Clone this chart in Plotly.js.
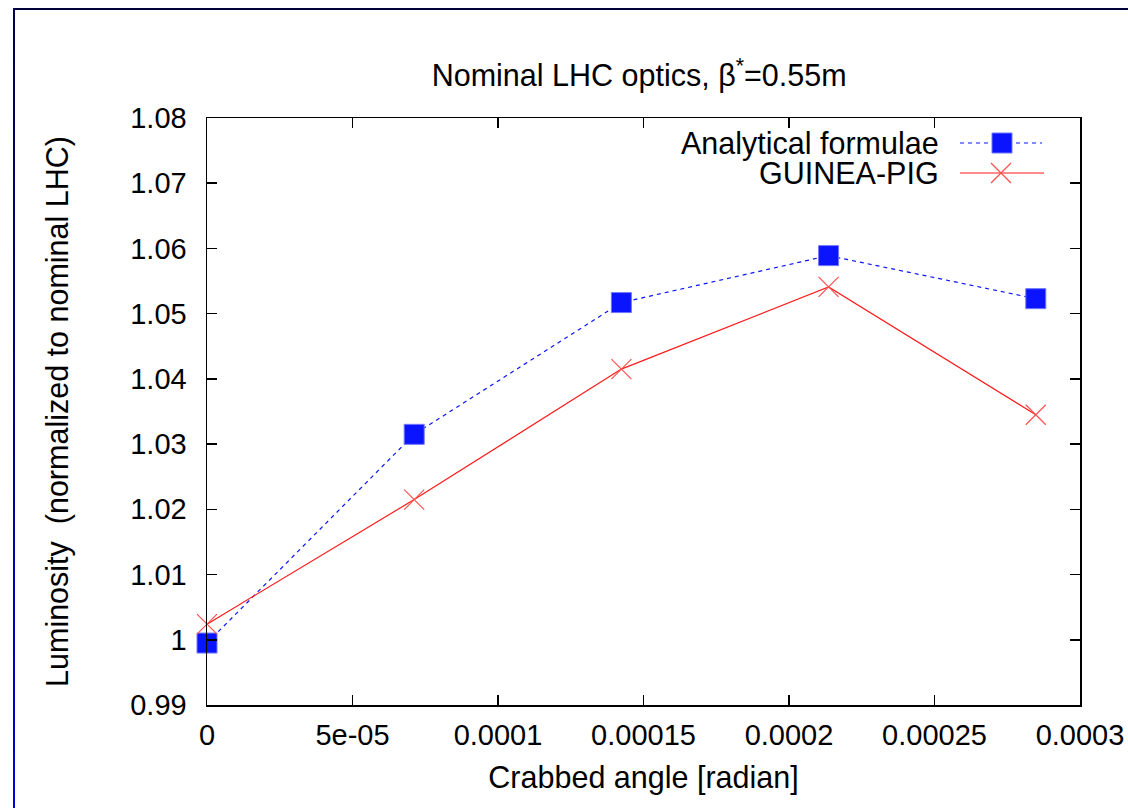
<!DOCTYPE html>
<html>
<head>
<meta charset="utf-8">
<script src="https://cdn.plot.ly/plotly-3.0.1.min.js"></script>
<style>
  html, body { margin: 0; padding: 0; background: #fff; }
  #wrap { position: relative; width: 1128px; height: 808px; overflow: hidden; }
  #chart { position: absolute; left: 0; top: 0; width: 1128px; height: 808px; }
  #topline { position: absolute; left: 13px; top: 8px; width: 1115px; height: 2px; background: #00003a; }
  #leftline { position: absolute; left: 13px; top: 8px; width: 2px; height: 800px;
              background: linear-gradient(to bottom, #00004a, #0000d8); }
</style>
</head>
<body>
<div id="wrap">
  <div id="chart"></div>
  <div id="topline"></div>
  <div id="leftline"></div>
</div>
<script>
// Crossing (crabbed) angle [radian]
const crabAngle = [0, 7.12e-5, 1.424e-4, 2.136e-4, 2.848e-4];
// Luminosity normalised to nominal LHC
const analytical = [0.9995, 1.0315, 1.0517, 1.0589, 1.0523];
const guineaPig  = [1.0024, 1.0215, 1.0415, 1.0541, 1.0345];

const seriesNames = ['Analytical formulae', 'GUINEA-PIG'];

const xTickVals = [0, 5e-5, 1e-4, 1.5e-4, 2e-4, 2.5e-4, 3e-4];
const xTickText = ['0', '5e-05', '0.0001', '0.00015', '0.0002', '0.00025', '0.0003'];
const yTickVals = [0.99, 1.00, 1.01, 1.02, 1.03, 1.04, 1.05, 1.06, 1.07, 1.08];
const yTickText = ['0.99', '1', '1.01', '1.02', '1.03', '1.04', '1.05', '1.06', '1.07', '1.08'];

const FONT = 'Liberation Sans, Arial, Helvetica, sans-serif';
const TXT = 30.5;
const TICK = 29;
const BLUE = '#0a14ff';
const RED = '#ff1a1a';

const traces = [
  {
    x: crabAngle, y: analytical, name: seriesNames[0],
    type: 'scatter', mode: 'lines+markers', cliponaxis: false,
    line: { color: BLUE, width: 1.2, dash: '4px,4px' },
    marker: { symbol: 'square', size: 20, color: BLUE, line: { color: '#6f78ff', width: 1 } }
  },
  {
    x: crabAngle, y: guineaPig, name: seriesNames[1],
    type: 'scatter', mode: 'lines+markers', cliponaxis: false,
    line: { color: RED, width: 1.2 },
    marker: { symbol: 'x-thin', size: 20, color: RED, line: { color: '#ff5050', width: 1.2 } }
  }
];

// Gnuplot-style key (text on the left, sample on the right)
const keyY = [143, 173];
const toPX = (xpix) => (xpix - 207) / (1080 - 207);
const toPY = (ypix) => (705 - ypix) / (705 - 118);

const annotations = seriesNames.map((n, i) => ({
  text: n, xref: 'paper', yref: 'paper',
  x: toPX(941), y: toPY(keyY[i]),
  xanchor: 'right', yanchor: 'middle', showarrow: false,
  font: { family: FONT, size: TXT, color: '#000' }
}));

const shapes = [
  { type: 'line', xref: 'paper', yref: 'paper', x0: toPX(960), x1: toPX(1042), y0: toPY(keyY[0]), y1: toPY(keyY[0]),
    line: { color: BLUE, width: 1.2, dash: '4px,4px' } },
  { type: 'rect', xref: 'paper', yref: 'paper', x0: toPX(992), x1: toPX(1012), y0: toPY(keyY[0] - 10), y1: toPY(keyY[0] + 10),
    fillcolor: BLUE, line: { color: '#6f78ff', width: 1 } },
  { type: 'line', xref: 'paper', yref: 'paper', x0: toPX(960), x1: toPX(1044), y0: toPY(keyY[1]), y1: toPY(keyY[1]),
    line: { color: RED, width: 1.2 } },
  { type: 'line', xref: 'paper', yref: 'paper', x0: toPX(991), x1: toPX(1011), y0: toPY(keyY[1] - 10), y1: toPY(keyY[1] + 10),
    line: { color: '#ff5050', width: 1.2 } },
  { type: 'line', xref: 'paper', yref: 'paper', x0: toPX(991), x1: toPX(1011), y0: toPY(keyY[1] + 10), y1: toPY(keyY[1] - 10),
    line: { color: '#ff5050', width: 1.2 } }
];

const layout = {
  width: 1128, height: 808,
  margin: { l: 207, r: 48, t: 118, b: 103, pad: 0 },
  paper_bgcolor: '#fff', plot_bgcolor: '#fff',
  showlegend: false,
  font: { family: FONT, size: TICK, color: '#000' },
  title: {
    text: 'Nominal LHC optics, β<sup>*</sup>=0.55m',
    font: { family: FONT, size: TXT, color: '#000' },
    xref: 'paper', x: 0.495, xanchor: 'center',
    yref: 'container', y: 1 - 75 / 808, yanchor: 'middle'
  },
  xaxis: {
    range: [0, 0.0003], autorange: false,
    tickmode: 'array', tickvals: xTickVals, ticktext: xTickText,
    ticks: 'inside', ticklen: 10, tickwidth: 1.5, tickcolor: '#000',
    showline: true, linecolor: '#000', linewidth: 1.5, mirror: 'ticks',
    showgrid: false, zeroline: false,
    tickfont: { family: FONT, size: TICK, color: '#000' },
    ticklabelstandoff: 4,
    title: { text: 'Crabbed angle [radian]', font: { family: FONT, size: TXT, color: '#000' }, standoff: 16 },
    automargin: false
  },
  yaxis: {
    range: [0.99, 1.08], autorange: false,
    tickmode: 'array', tickvals: yTickVals, ticktext: yTickText,
    ticks: 'inside', ticklen: 10, tickwidth: 1.5, tickcolor: '#000',
    showline: true, linecolor: '#000', linewidth: 1.5, mirror: 'ticks',
    showgrid: false, zeroline: false,
    tickfont: { family: FONT, size: TICK, color: '#000' },
    ticklabelstandoff: 13,
    title: { text: 'Luminosity&nbsp; (normalized to nominal LHC)', font: { family: FONT, size: TXT, color: '#000' }, standoff: 52 },
    automargin: false
  },
  annotations: annotations,
  shapes: shapes
};

Plotly.newPlot('chart', traces, layout, { staticPlot: true, displayModeBar: false });
</script>
</body>
</html>
